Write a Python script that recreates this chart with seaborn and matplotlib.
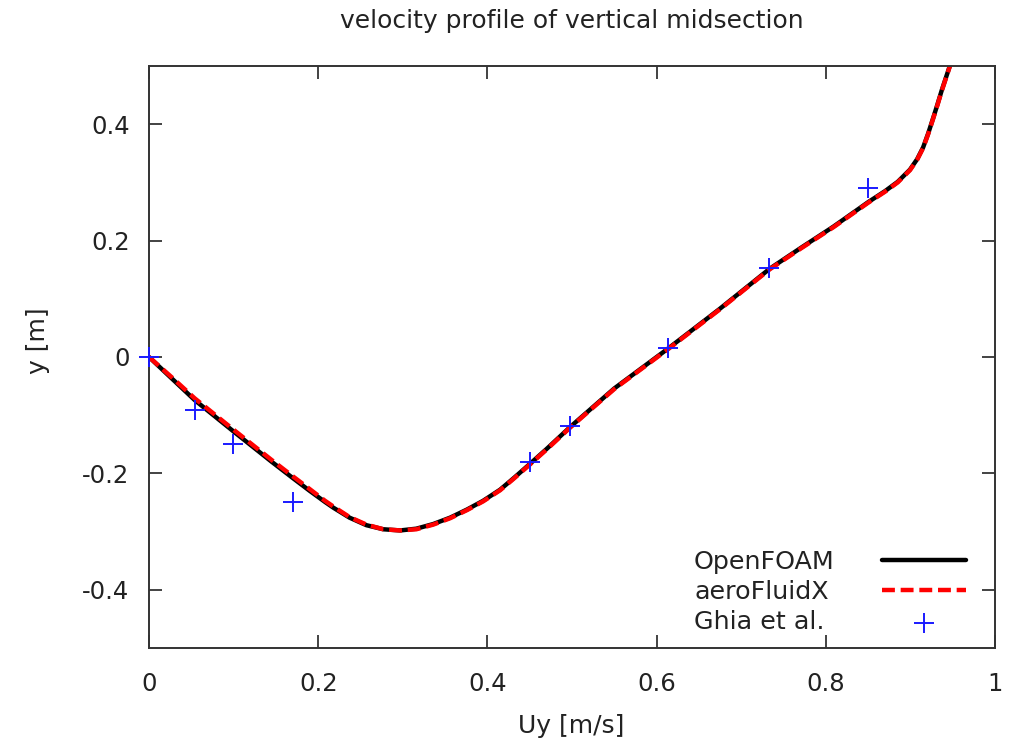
import matplotlib
matplotlib.use("Agg")
import matplotlib.pyplot as plt
import seaborn as sns
import pandas as pd

# Data
of_x = [0.0, 0.027, 0.054, 0.10, 0.145, 0.17, 0.19, 0.208, 0.218, 0.237, 0.257, 0.277,
        0.297, 0.316, 0.336, 0.356, 0.376, 0.395, 0.415, 0.432, 0.450, 0.470, 0.498,
        0.55, 0.614, 0.674, 0.734, 0.770, 0.809, 0.850, 0.870, 0.885, 0.8995, 0.908,
        0.915, 0.921, 0.927, 0.932, 0.937, 0.942, 0.947, 0.952]
of_y = [0.0, -0.037, -0.074, -0.128, -0.180, -0.208, -0.230, -0.249, -0.259, -0.276,
        -0.289, -0.296, -0.298, -0.295, -0.287, -0.276, -0.262, -0.247, -0.228, -0.207,
        -0.184, -0.158, -0.120, -0.054, 0.015, 0.082, 0.152, 0.187, 0.224, 0.266,
        0.285, 0.301, 0.322, 0.340, 0.360, 0.384, 0.411, 0.434, 0.458, 0.480, 0.502, 0.53]

afx_x = list(of_x)
afx_y = [0.0, -0.035, -0.071, -0.125, -0.177, -0.205, -0.227, -0.247, -0.257, -0.275,
         -0.288, -0.296, -0.298, -0.296, -0.288, -0.277, -0.263, -0.248, -0.229, -0.208,
         -0.185, -0.159, -0.121, -0.055, 0.014, 0.081, 0.151, 0.186, 0.223, 0.265,
         0.284, 0.300, 0.321, 0.339, 0.359, 0.383, 0.410, 0.433, 0.457, 0.479, 0.501, 0.53]

ghia_x = [0.0, 0.054, 0.099, 0.170, 0.450, 0.498, 0.613, 0.733, 0.850]
ghia_y = [0.0, -0.091, -0.150, -0.249, -0.180, -0.119, 0.016, 0.153, 0.290]

series_labels = ["OpenFOAM", "aeroFluidX", "Ghia et al."]
title = "velocity profile of vertical midsection"
x_label = "Uy [m/s]"
y_label = "y [m]"
x_ticks = [0, 0.2, 0.4, 0.6, 0.8, 1]
x_tick_labels = ["0", "0.2", "0.4", "0.6", "0.8", "1"]
y_ticks = [-0.4, -0.2, 0, 0.2, 0.4]
y_tick_labels = ["-0.4", "-0.2", "0", "0.2", "0.4"]

sns.set_style("ticks")
plt.rcParams['font.family'] = ['DejaVu Sans']
TXT = "#222222"

fig = plt.figure(figsize=(10.1, 7.42), dpi=100)
ax = fig.add_axes([149/1010, 1 - 648/742, (995-149)/1010, (648-66)/742])

df_of = pd.DataFrame({"x": of_x, "y": of_y})
df_afx = pd.DataFrame({"x": afx_x, "y": afx_y})
df_gh = pd.DataFrame({"x": ghia_x, "y": ghia_y})

sns.lineplot(data=df_of, x="x", y="y", ax=ax, color="black", lw=3.2,
             label=series_labels[0], sort=False)
sns.lineplot(data=df_afx, x="x", y="y", ax=ax, color="#ff0000", lw=3.2,
             label=series_labels[1], sort=False)
ax.lines[-1].set_dashes([2.9, 1.3])
for ln in ax.lines:
    ln.set_solid_joinstyle("round")
    ln.set_dash_joinstyle("round")
sns.scatterplot(data=df_gh, x="x", y="y", ax=ax, marker="+", s=210,
                color="#1a1aff", linewidth=1.4, label=series_labels[2],
                zorder=5, clip_on=False)

ax.set_xlim(0, 1)
ax.set_ylim(-0.5, 0.5)
ax.set_xticks(x_ticks)
ax.set_xticklabels(x_tick_labels)
ax.set_yticks(y_ticks)
ax.set_yticklabels(y_tick_labels)
ax.tick_params(direction="in", length=9.5, width=1.2, top=True, right=True,
               labelsize=17.5, colors=TXT)
ax.tick_params(axis="x", pad=17)
ax.tick_params(axis="y", pad=14)
for s in ax.spines.values():
    s.set_linewidth(1.4)
    s.set_color("#333333")

ax.set_xlabel(x_label, fontsize=18, color=TXT)
ax.set_ylabel(y_label, fontsize=18, color=TXT)
ax.xaxis.set_label_coords((571.5-149)/846, (648-726)/582)
ax.xaxis.label.set_va("center")
ax.yaxis.set_label_coords((38-149)/846, (648-341)/582)
ax.yaxis.label.set_va("center")
fig.text(571.5/1010, 1 - 21/742, title, ha="center", va="center",
         fontsize=18, color=TXT)

handles, labels = ax.get_legend_handles_labels()
if ax.get_legend():
    ax.get_legend().remove()
leg_y = (648 - 592) / 582
leg_text = ax.legend(handles, labels, loc="center left", frameon=False,
                     fontsize=18.3, handlelength=0, handletextpad=0,
                     labelspacing=0.25, borderpad=0, borderaxespad=0,
                     bbox_to_anchor=((694-149)/846, leg_y))
for h in leg_text.legend_handles:
    h.set_visible(False)
for t in leg_text.get_texts():
    t.set_color(TXT)
ax.add_artist(leg_text)
leg_marks = ax.legend(handles, ["", "", ""], loc="center", frameon=False,
                      fontsize=18.3, handlelength=3.3, handletextpad=0,
                      labelspacing=0.25, borderpad=0, borderaxespad=0,
                      bbox_to_anchor=((924-149)/846, leg_y))

fig.savefig("out.png", dpi=100)
